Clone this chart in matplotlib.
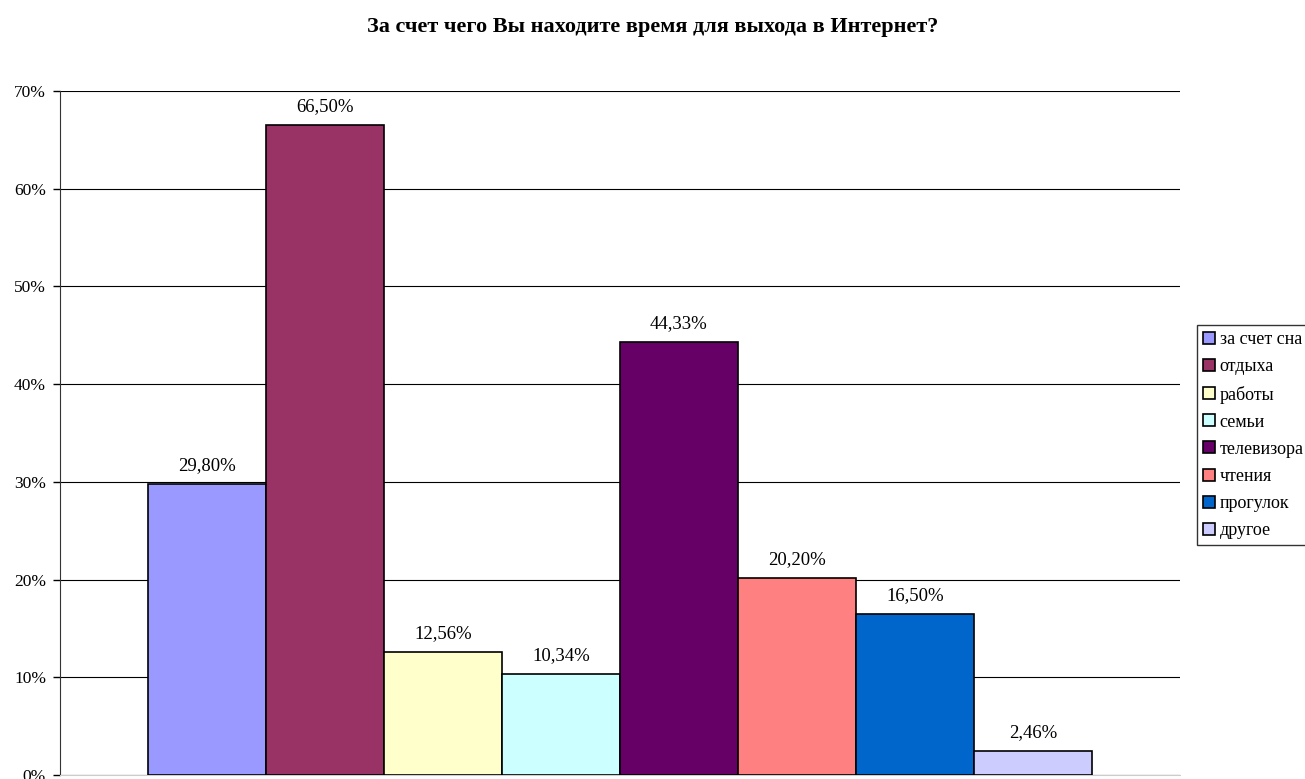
import matplotlib
matplotlib.use("Agg")
import matplotlib.pyplot as plt
from matplotlib.ticker import FuncFormatter

title = "За счет чего Вы находите время для выхода в Интернет?"
categories = ["за счет сна", "отдыха", "работы", "семьи", "телевизора", "чтения", "прогулок", "другое"]
values = [29.80, 66.50, 12.56, 10.34, 44.33, 20.20, 16.50, 2.46]
colors = ["#9999FF", "#993366", "#FFFFCC", "#CCFFFF", "#660066", "#FF8080", "#0066CC", "#CCCCFF"]
yticks = [0, 10, 20, 30, 40, 50, 60, 70]

plt.rcParams['font.family'] = ['Liberation Serif', 'DejaVu Serif']

W, H = 1305, 779
fig = plt.figure(figsize=(W / 100, H / 100), dpi=100)
ax = fig.add_axes([60 / W, 4 / H, 1120 / W, (775 - 91) / H])

handles = []
for i, (c, v, col) in enumerate(zip(categories, values, colors)):
    b = ax.bar(i, v, width=1.0, color=col, edgecolor="black", linewidth=1.2, label=c, zorder=3)
    handles.append(b)
    ax.text(i, v + 1.0, f"{v:.2f}".replace(".", ",") + "%", ha="center", va="bottom", fontsize=13.5, zorder=4)

gap = 88 / 118
ax.set_xlim(-0.5 - gap, 7.5 + gap)
ax.set_ylim(0, 70)
ax.set_yticks(yticks)
ax.yaxis.set_major_formatter(FuncFormatter(lambda v, p: f"{int(round(v))}%"))
ax.tick_params(axis="y", labelsize=12.5, length=5, width=1, direction="out", pad=5)
ax.set_xticks([])
ax.yaxis.grid(True, color="black", linewidth=0.8, zorder=0)
for s in ["top", "right"]:
    ax.spines[s].set_visible(False)
ax.spines["left"].set_color("#333333")
ax.spines["bottom"].set_color("#cccccc")

fig.text(0.5, 1 - 27 / H, title, ha="center", va="center", fontsize=16, fontweight="bold")

leg = fig.legend(handles=handles, labels=categories, loc="upper left",
                 bbox_to_anchor=(1197 / W, 1 - 325 / H), fontsize=13,
                 frameon=True, fancybox=False, shadow=False, handlelength=0.65,
                 handleheight=0.65, handletextpad=0.25, labelspacing=0.56,
                 borderpad=0.35, borderaxespad=0)
leg.get_frame().set_edgecolor("black")
leg.get_frame().set_linewidth(1)

fig.savefig("out.png", dpi=100)
